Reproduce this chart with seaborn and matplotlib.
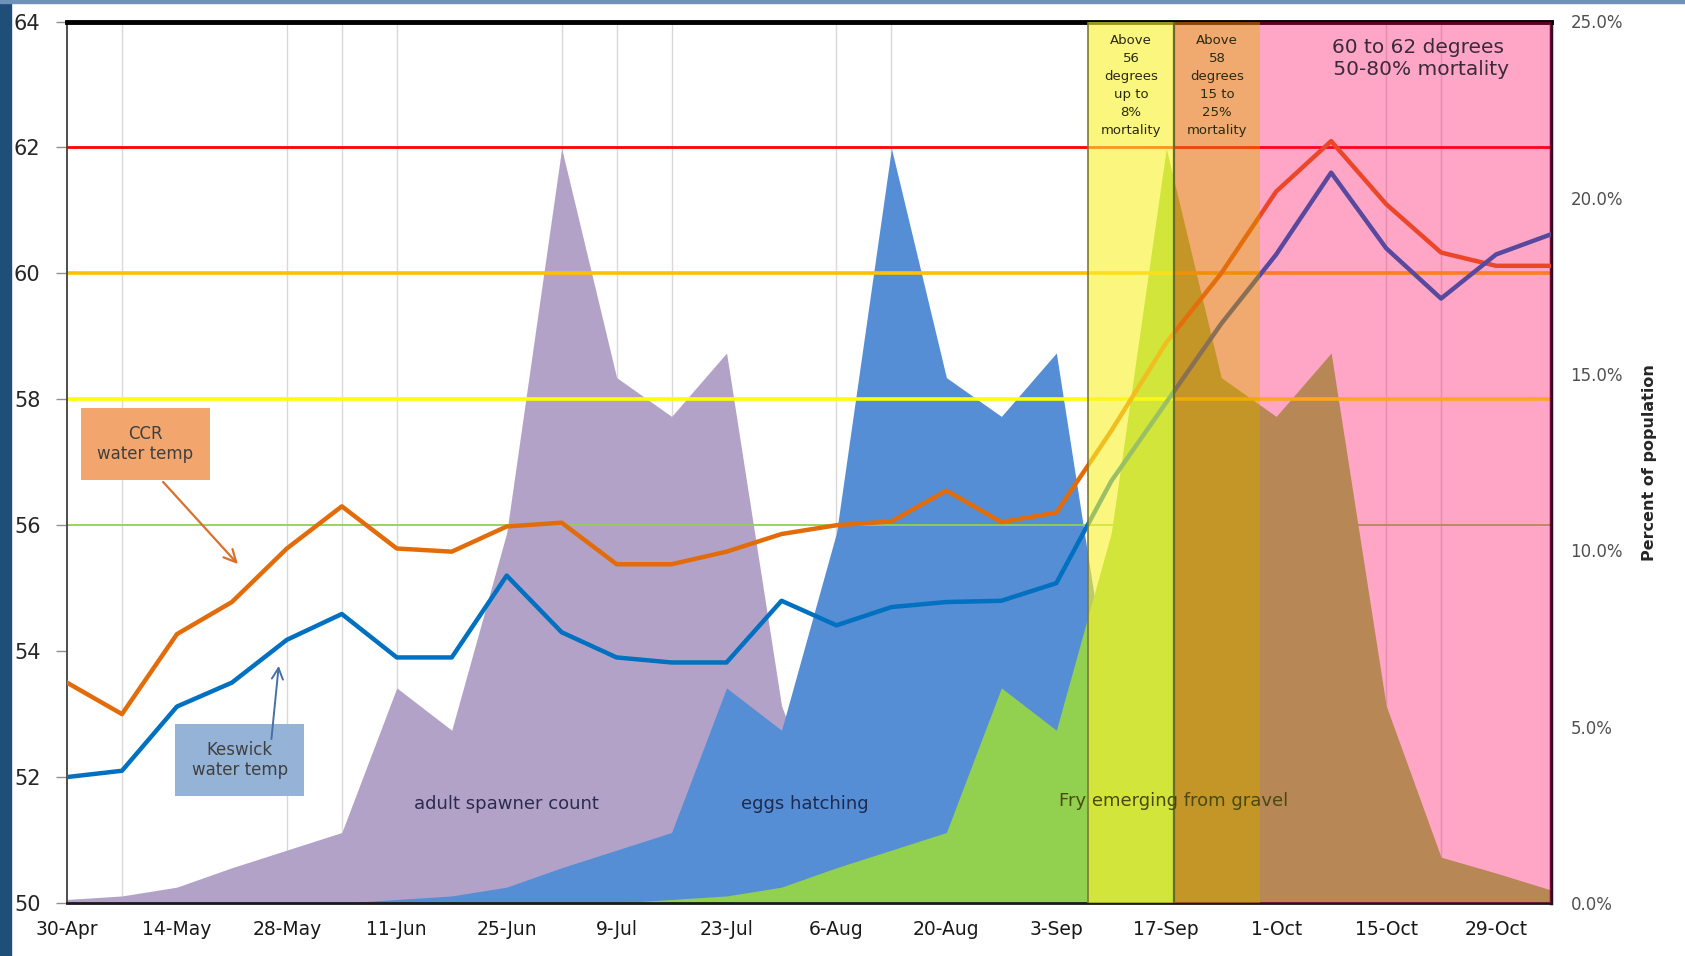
import pandas as pd
import seaborn as sns
import matplotlib.pyplot as plt
from matplotlib.patches import Rectangle

# weekly sample dates
dates = ["2014-04-30", "2014-05-07", "2014-05-14", "2014-05-21", "2014-05-28", "2014-06-04",
         "2014-06-11", "2014-06-18", "2014-06-25", "2014-07-02", "2014-07-09", "2014-07-16",
         "2014-07-23", "2014-07-30", "2014-08-06", "2014-08-13", "2014-08-20", "2014-08-27",
         "2014-09-03", "2014-09-10", "2014-09-17", "2014-09-24", "2014-10-01", "2014-10-08",
         "2014-10-15", "2014-10-22", "2014-10-29", "2014-11-05"]

# water temps (deg F)
ccr_temp = [53.5, 53.0, 54.27, 54.78, 55.63, 56.3, 55.63, 55.58, 55.98, 56.04, 55.38, 55.38,
            55.58, 55.86, 56.0, 56.06, 56.55, 56.05, 56.2, 57.5, 58.9, 60.0, 61.3, 62.1,
            61.1, 60.33, 60.12, 60.12]
keswick_temp = [52.0, 52.1, 53.12, 53.5, 54.18, 54.59, 53.9, 53.9, 55.2, 54.3, 53.9, 53.82,
                53.82, 54.8, 54.41, 54.7, 54.78, 54.8, 55.08, 56.7, 57.95, 59.2, 60.3, 61.6,
                60.4, 59.6, 60.3, 60.62]

# percent of population
spawners = [0.1, 0.2, 0.45, 1.0, 1.5, 2.0, 6.1, 4.9, 10.5, 21.4, 14.9, 13.8, 15.6, 5.6,
            1.3, 0.85, 0.37, 0, 0, 0, 0, 0, 0, 0, 0, 0, 0, 0]
eggs = [0, 0, 0, 0, 0, 0, 0.1, 0.2, 0.45, 1.0, 1.5, 2.0, 6.1, 4.9, 10.5, 21.4, 14.9, 13.8,
        15.6, 5.6, 1.3, 0.85, 0.37, 0, 0, 0, 0, 0]
fry = [0, 0, 0, 0, 0, 0, 0, 0, 0, 0, 0, 0.1, 0.2, 0.45, 1.0, 1.5, 2.0, 6.1, 4.9, 10.5,
       21.4, 14.9, 13.8, 15.6, 5.6, 1.3, 0.85, 0.37]

tick_dates = ["2014-04-30", "2014-05-14", "2014-05-28", "2014-06-11", "2014-06-25", "2014-07-09",
              "2014-07-23", "2014-08-06", "2014-08-20", "2014-09-03", "2014-09-17", "2014-10-01",
              "2014-10-15", "2014-10-29"]
tick_labels = ["30-Apr", "14-May", "28-May", "11-Jun", "25-Jun", "9-Jul", "23-Jul", "6-Aug",
               "20-Aug", "3-Sep", "17-Sep", "1-Oct", "15-Oct", "29-Oct"]
grid_dates = ["2014-05-07", "2014-05-28", "2014-06-04", "2014-06-11", "2014-07-02", "2014-07-09",
              "2014-07-16", "2014-08-06", "2014-08-13", "2014-10-15", "2014-10-22"]

ref_temps = [62, 60, 58, 56]
ref_colors = ["#FF0000", "#FFC000", "#FFFF00", "#92D050"]
ref_widths = [2.0, 2.6, 2.6, 1.3]

band_edges = ["2014-09-07", "2014-09-18", "2014-09-29", "2014-11-05"]
band_colors = [(0.98, 0.95, 0.18), (0.90, 0.44, 0.05), (1.0, 0.0, 0.38)]
band_alphas = [0.62, 0.6, 0.35]
band_texts = ["Above\n56\ndegrees\nup to\n8%\nmortality",
              "Above\n58\ndegrees\n15 to\n25%\nmortality"]

df = pd.DataFrame({"date": pd.to_datetime(dates), "CCR": ccr_temp, "Keswick": keswick_temp,
                   "spawners": spawners, "eggs": eggs, "fry": fry})
d = lambda s: pd.Timestamp(s)

sns.set_style("white")
plt.rcParams["font.family"] = ["DejaVu Sans"]
narrow = ["Liberation Sans Narrow", "DejaVu Sans"]

fig = plt.figure(figsize=(16.85, 9.56), dpi=100)
ax2 = fig.add_axes([67 / 1685, 53 / 956, 1484 / 1685, 881.5 / 956])
ax = ax2.twinx()
ax.set_zorder(ax2.get_zorder() + 1)
ax.patch.set_visible(False)

# slide background strip
fig.patches.append(Rectangle((0, 0), 11 / 1685, 1, transform=fig.transFigure,
                             color="#1F4E79", zorder=0))
fig.patches.append(Rectangle((0, 1 - 3 / 956), 1, 3 / 956, transform=fig.transFigure,
                             color="#6f93b8", zorder=0))

# percent areas on the right axis (drawn underneath)
for g in grid_dates:
    ax2.axvline(d(g), color="#d9d9d9", lw=1.0, zorder=0.5)
ax2.fill_between(df["date"], df["spawners"], color="#B3A2C7", lw=0, zorder=1)
ax2.fill_between(df["date"], df["eggs"], color="#558ED5", lw=0, zorder=2)
ax2.fill_between(df["date"], df["fry"], color="#92D050", lw=0, zorder=3)
ax2.set_ylim(0, 25)
ax2.set_yticks([0, 5, 10, 15, 20, 25])
ax2.set_yticklabels([f"{v:.1f}%" for v in [0, 5, 10, 15, 20, 25]])
ax2.yaxis.tick_right()
ax2.tick_params(axis="y", length=0, pad=14, labelsize=12, labelcolor="#505050")
ax2.yaxis.set_label_position("right")
ax2.set_ylabel("Percent of population", fontsize=11.5, fontweight="bold", labelpad=14)
for s in ax2.spines.values():
    s.set_visible(False)

# x axis lives on the bottom (original) axes
ax2.set_xlim(d(dates[0]), d(band_edges[-1]))
ax2.set_xticks(pd.to_datetime(tick_dates))
ax2.set_xticklabels(tick_labels, family=narrow, fontsize=13.5, color="#1a1a1a")
ax2.tick_params(axis="x", length=0, pad=12)
ax2.set_xlabel("")

# temperature lines
for t, c, w in zip(ref_temps, ref_colors, ref_widths):
    ax.axhline(t, color=c, lw=w, zorder=2)
sns.lineplot(data=df, x="date", y="CCR", ax=ax, color="#E36C0A", lw=3.2, zorder=3)
sns.lineplot(data=df, x="date", y="Keswick", ax=ax, color="#0070C0", lw=3.2, zorder=3)

# temperature bands
for i in range(3):
    ax.axvspan(d(band_edges[i]), d(band_edges[i + 1]), color=band_colors[i],
               alpha=band_alphas[i], lw=0, zorder=4)
ax.axvline(d(band_edges[0]), color="#7a7a30", lw=1.2, zorder=4.5)
ax.axvline(d(band_edges[1]), color="#6a6a30", lw=1.6, zorder=4.5)

ax.yaxis.tick_left()
ax.set_ylim(50, 64)
ax.set_yticks(range(50, 65, 2))
ax.tick_params(axis="y", direction="out", length=8, width=1, color="#909090",
               pad=11, labelsize=15, labelcolor="#262626")
ax.set_xlim(d(dates[0]), d(band_edges[-1]))
ax.set_xlabel("")
ax.set_ylabel("")
ax.spines["top"].set_linewidth(3.5)
ax.spines["top"].set_color("black")
ax.spines["left"].set_linewidth(1.3)
ax.spines["left"].set_color("#404040")
ax.spines["bottom"].set_linewidth(2)
ax.spines["bottom"].set_color("#1a1a1a")
ax.spines["right"].set_linewidth(2.5)
ax.spines["right"].set_color("#2a1020")

# labels
ax.text(d("2014-05-10"), 57.29, "CCR\nwater temp", ha="center", va="center", fontsize=12,
        color="#404040", family=narrow, zorder=6,
        bbox=dict(boxstyle="square,pad=1.0", fc="#F2A66E", ec="none"))
ax.annotate("", xy=(d("2014-05-22"), 55.35), xytext=(d("2014-05-12"), 56.72),
            arrowprops=dict(arrowstyle="->", color="#D9702C", lw=1.6, mutation_scale=22), zorder=6)
ax.text(d("2014-05-22"), 52.27, "Keswick\nwater temp", ha="center", va="center", fontsize=12,
        color="#404040", family=narrow, zorder=6,
        bbox=dict(boxstyle="square,pad=1.0", fc="#95B3D7", ec="none"))
ax.annotate("", xy=(d("2014-05-27"), 53.81), xytext=(d("2014-05-26"), 52.56),
            arrowprops=dict(arrowstyle="->", color="#4A6FA5", lw=1.4, mutation_scale=20), zorder=7)

ax.text(d("2014-06-25"), 2.81, "adult spawner count", transform=ax2.transData, ha="center",
        va="center", fontsize=13, color="#2B2B4F", family=narrow, zorder=6)
ax.text(d("2014-08-02"), 2.81, "eggs hatching", transform=ax2.transData, ha="center",
        va="center", fontsize=13, color="#1F2A4F", family=narrow, zorder=6)
ax.text(d("2014-09-18"), 2.9, "Fry emerging from gravel", transform=ax2.transData, ha="center",
        va="center", fontsize=13, color="#4a4a10", family=narrow, zorder=6)

for i in range(2):
    mid = d(band_edges[i]) + (d(band_edges[i + 1]) - d(band_edges[i])) / 2
    ax.text(mid, 63.8, band_texts[i], ha="center", va="top", fontsize=9.5, linespacing=1.5,
            color="#2a2a10", family=narrow, zorder=6)
ax.text(d("2014-10-19"), 63.42, "60 to 62 degrees\n 50-80% mortality", ha="center",
        va="center", fontsize=14.5, color="#3a2a3a", family=narrow, zorder=6)

fig.savefig("out.png", dpi=100)
